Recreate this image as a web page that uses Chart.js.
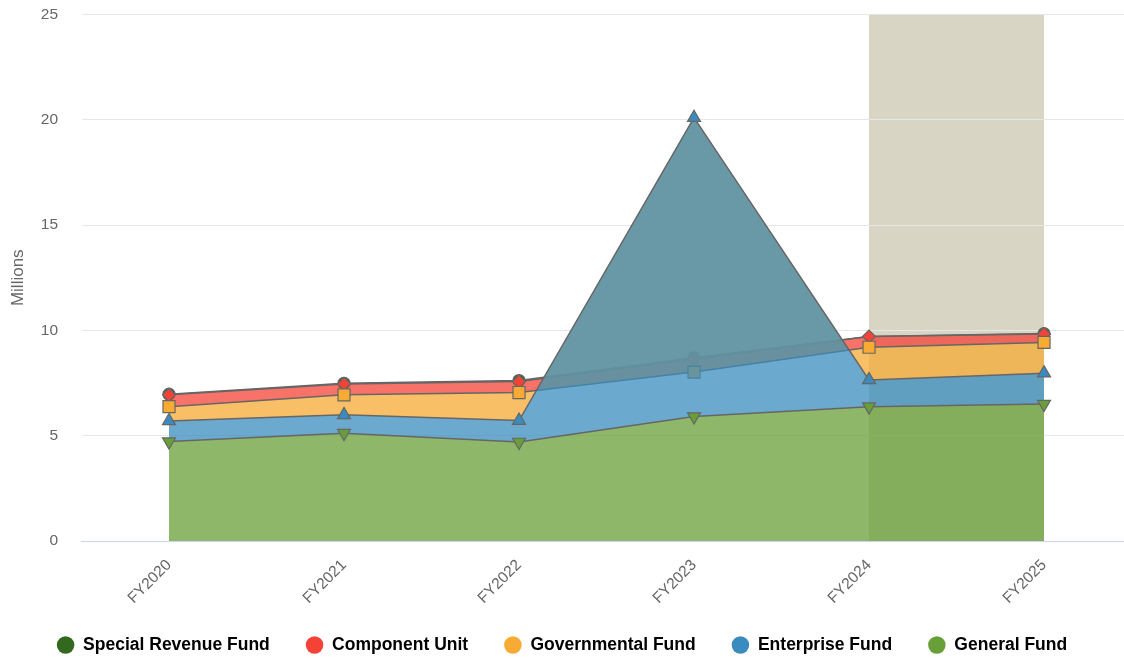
<!DOCTYPE html>
<html>
<head>
<meta charset="utf-8">
<title>Funds by fiscal year</title>
<script src="https://cdn.jsdelivr.net/npm/chart.js@4.4.1/dist/chart.umd.min.js"></script>
<style>
  html, body { margin: 0; padding: 0; background: #fff; overflow: hidden; }
  #wrap { position: relative; width: 1124px; height: 659px; }
</style>
</head>
<body>
<div id="wrap"><canvas id="fundChart"></canvas></div>
<script>
// values in millions (per series, not stacked)
const categories = ['FY2020', 'FY2021', 'FY2022', 'FY2023', 'FY2024', 'FY2025'];
const generalFund = [4.72, 5.12, 4.70, 5.91, 6.38, 6.50];
const enterpriseFund = [0.98, 0.87, 1.02, 14.19, 1.27, 1.47];
const governmentalFund = [0.68, 0.95, 1.33, -12.08, 1.55, 1.46];
const componentUnit = [0.56, 0.52, 0.52, 0.62, 0.51, 0.40];
const specialRevenueFund = [0.03, 0.03, 0.05, 0.06, null, 0.02];
const yTicks = [0, 5, 10, 15, 20, 25];
const shadedFrom = 'FY2024';
const shadedTo = 'FY2025';

const FONT = "'Liberation Sans', Arial, Helvetica, sans-serif";
Chart.defaults.font.family = FONT;

// bottom of the stack first, the way the areas pile up
const series = [
  { label: 'General Fund', values: generalFund, color: '#689f38', style: 'triangle', rot: 180, r: 7.5 },
  { label: 'Enterprise Fund', values: enterpriseFund, color: '#3a8cbe', style: 'triangle', rot: 0, r: 7.5 },
  { label: 'Governmental Fund', values: governmentalFund, color: '#f7aa34', style: 'rect', rot: 0, r: 8.5 },
  { label: 'Component Unit', values: componentUnit, color: '#f44336', style: 'rectRot', rot: 0, r: 6.5 },
  { label: 'Special Revenue Fund', values: specialRevenueFund, color: '#33691e', style: 'circle', rot: 0, r: 6 }
];

function withAlpha(hex, a) {
  const n = parseInt(hex.slice(1), 16);
  return `rgba(${n >> 16}, ${(n >> 8) & 255}, ${n & 255}, ${a})`;
}

let running = categories.map(() => 0);
const datasets = series.map((s, idx) => {
  running = running.map((r, i) => r + (s.values[i] === null ? 0 : s.values[i]));
  const tops = running.slice();
  return {
    label: s.label,
    data: tops.map((y, i) => ({ x: i, y: y })),
    fill: idx === 0 ? 'origin' : '-1',
    backgroundColor: withAlpha(s.color, 0.75),
    borderColor: '#666666',
    borderWidth: 1.5,
    tension: 0,
    pointStyle: s.style,
    pointRotation: s.rot,
    pointRadius: ctx => s.values[ctx.dataIndex] === null ? 0 : s.r,
    pointBackgroundColor: s.color,
    pointBorderColor: '#666666',
    pointBorderWidth: 1.2,
    pointHoverRadius: s.r
  };
});

const shadeBand = {
  id: 'shadeBand',
  beforeDraw(chart) {
    const { ctx, chartArea, scales } = chart;
    const x1 = scales.x.getPixelForValue(categories.indexOf(shadedFrom));
    const x2 = scales.x.getPixelForValue(categories.indexOf(shadedTo));
    ctx.save();
    ctx.fillStyle = '#d8d5c5';
    ctx.fillRect(x1, chartArea.top, x2 - x1, chartArea.bottom - chartArea.top);
    ctx.restore();
  }
};

// pull the legend row up a little so it sits where the original one does
const nudgeLegend = {
  id: 'nudgeLegend',
  afterLayout(chart) {
    chart.legend.top -= 3.75;
    chart.legend.bottom -= 3.75;
  }
};

const ctx = document.getElementById('fundChart').getContext('2d');
new Chart(ctx, {
  type: 'line',
  data: { datasets: datasets },
  plugins: [shadeBand, nudgeLegend],
  options: {
    responsive: true,
    maintainAspectRatio: false,
    animation: false,
    layout: { autoPadding: false, padding: { top: 14.5, right: 0, bottom: -8.5, left: 0 } },
    scales: {
      x: {
        type: 'linear',
        min: -0.5,
        max: 5.457,
        afterBuildTicks: scale => { scale.ticks = categories.map((c, i) => ({ value: i })); },
        afterFit: scale => {
          scale.height = 63;
          scale.paddingLeft = 0;
          scale.paddingRight = 0;
        },
        grid: { display: false },
        border: { display: true, color: '#ccd6eb', width: 1 },
        ticks: {
          autoSkip: false,
          minRotation: 45,
          maxRotation: 45,
          padding: 7,
          color: '#666666',
          font: { size: 15.5 },
          callback: value => categories[value]
        }
      },
      y: {
        min: 0,
        max: 25,
        afterBuildTicks: scale => { scale.ticks = yTicks.map(v => ({ value: v })); },
        afterFit: scale => {
          scale.width = 81.5;
          scale.paddingTop = 0;
          scale.paddingBottom = 0;
        },
        grid: {
          drawTicks: false,
          color: c => c.tick && c.tick.value === 0 ? '#ccd6eb' : '#e6e6e6',
          lineWidth: 1
        },
        border: { display: false },
        ticks: { padding: 23.5, color: '#666666', font: { size: 15.5 } },
        title: {
          display: true,
          text: 'Millions',
          color: '#666666',
          font: { size: 17 },
          padding: { top: 8, bottom: 0 }
        }
      }
    },
    plugins: {
      tooltip: { enabled: false },
      legend: {
        position: 'bottom',
        reverse: true,
        labels: {
          usePointStyle: true,
          boxWidth: 17.5,
          boxHeight: 12.4,
          padding: 36,
          color: '#333333',
          font: { size: 17.5, weight: 'bold' },
          generateLabels: chart => chart.data.datasets.map((ds, i) => ({
            text: ds.label,
            fillStyle: series[i].color,
            strokeStyle: series[i].color,
            lineWidth: 0,
            pointStyle: 'circle',
            hidden: false,
            datasetIndex: i
          }))
        }
      }
    }
  }
});
</script>
</body>
</html>
